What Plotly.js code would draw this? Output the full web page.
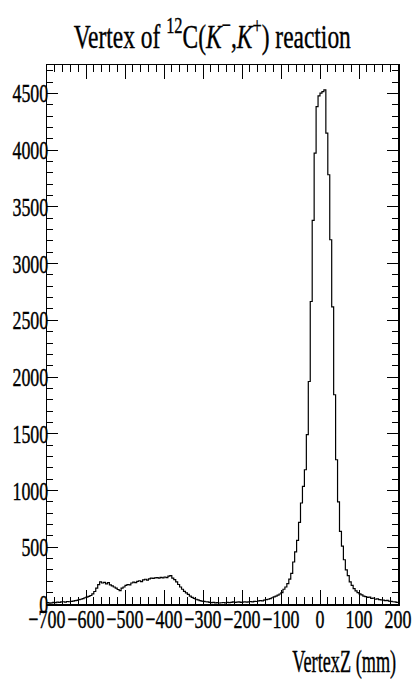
<!DOCTYPE html>
<html>
<head>
<meta charset="utf-8">
<script src="https://cdn.plot.ly/plotly-3.0.1.min.js"></script>
<style>
  html, body { margin: 0; padding: 0; background: #ffffff; }
  #chart { width: 413px; height: 684px; }
</style>
</head>
<body>
<div id="chart"></div>
<script>
// Histogram binning: 180 bins of 5 mm along VertexZ
const zMin = -700;
const zMax = 200;
const nBins = 180;

// Entries per bin, one array per 100 mm block (low edge of first bin in the name)
const countsM700 = [12, 8, 10, 14, 12, 16, 14, 18, 20, 17, 22, 20, 24, 26, 30, 32, 38, 42, 48, 55];
const countsM600 = [60, 68, 75, 90, 110, 140, 170, 195, 185, 190, 178, 188, 168, 160, 150, 140, 128, 118, 140, 150];
const countsM500 = [165, 172, 168, 185, 192, 188, 200, 205, 198, 212, 218, 210, 222, 228, 225, 230, 232, 228, 235, 230];
const countsM400 = [238, 232, 245, 250, 228, 215, 195, 172, 150, 130, 112, 98, 85, 70, 58, 50, 42, 36, 30, 26];
const countsM300 = [24, 20, 18, 15, 12, 14, 10, 12, 9, 11, 13, 10, 14, 12, 15, 18, 14, 16, 19, 15];
const countsM200 = [17, 20, 16, 18, 22, 19, 24, 22, 27, 30, 28, 34, 38, 42, 48, 55, 62, 70, 78, 88];
const countsM100 = [100, 130, 150, 180, 220, 270, 370, 460, 560, 720, 890, 1036, 1183, 1492, 1961, 2666, 3380, 3974, 4384, 4478];
const countsP000 = [4502, 4516, 4530, 4150, 3783, 3210, 2619, 1844, 1271, 900, 640, 510, 390, 300, 250, 195, 165, 135, 115, 100];
const countsP100 = [90, 80, 70, 65, 58, 60, 50, 52, 42, 45, 38, 36, 34, 30, 32, 26, 24, 20, 18, 14];

const titleText = 'Vertex of <sup>12</sup>C(<i>K</i><sup>\u2212</sup>,<i>K</i><sup>+</sup>) reaction';
const xTitleText = 'VertexZ (mm)';

const counts = [].concat(countsM700, countsM600, countsM500, countsM400,
                         countsM300, countsM200, countsM100, countsP000, countsP100);

// Step outline: one point per low bin edge, plus the closing upper edge
const binWidth = (zMax - zMin) / nBins;
const edges = [];
for (let i = 0; i <= nBins; i++) edges.push(zMin + i * binWidth);
const stepY = counts.concat([counts[counts.length - 1]]);

const FONT = 'Liberation Serif';
const SQUEEZE = 0.69;        // narrow, tall lettering
const SQUEEZE_LABEL = 0.57;  // axis caption is narrower still

const trace = {
  type: 'scatter',
  mode: 'lines',
  x: edges,
  y: stepY,
  line: { shape: 'hv', color: '#000000', width: 1.2 },
  hoverinfo: 'skip'
};

const axisCommon = {
  showgrid: false,
  zeroline: false,
  showline: true,
  linecolor: '#000000',
  linewidth: 1.5,
  mirror: 'allticks',
  ticks: 'inside',
  tickcolor: '#000000',
  tickwidth: 1,
  ticklabeloverflow: 'allow',
  tickfont: { family: FONT, size: 26, color: '#000000' }
};

const layout = {
  width: 413,
  height: 684,
  margin: { l: 47, r: 15, t: 65, b: 80 },
  paper_bgcolor: '#ffffff',
  plot_bgcolor: '#ffffff',
  showlegend: false,
  font: { family: FONT, color: '#000000' },
  title: {
    text: titleText,
    font: { family: FONT, size: 34, color: '#000000' },
    xref: 'container', x: 0.514, xanchor: 'center',
    yref: 'container', y: 0.965, yanchor: 'top'
  },
  xaxis: Object.assign({}, axisCommon, {
    range: [zMin, zMax],
    tick0: zMin,
    dtick: 100,
    tickangle: 0,
    ticklen: 14,
    ticklabelstandoff: -9,
    minor: { dtick: 20, ticks: 'inside', ticklen: 7, tickcolor: '#000000', tickwidth: 1 }
  }),
  yaxis: Object.assign({}, axisCommon, {
    range: [0, 4750],
    tick0: 0,
    dtick: 500,
    ticklen: 11,
    ticklabelstandoff: -8,
    minor: { dtick: 100, ticks: 'inside', ticklen: 6, tickcolor: '#000000', tickwidth: 1 }
  }),
  annotations: [{
    text: xTitleText,
    xref: 'paper', x: 1, xanchor: 'right', align: 'right',
    yref: 'paper', y: 0, yanchor: 'top', yshift: -37,
    showarrow: false,
    font: { family: FONT, size: 32, color: '#000000' }
  }]
};

// Compress every text element horizontally about its own anchor point,
// with a hairline stroke so the narrowed glyphs keep their weight
function squeezeText(gd) {
  gd.querySelectorAll('svg text').forEach(function (el) {
    if (!el.textContent) return;
    const s = el.classList.contains('annotation-text') ? SQUEEZE_LABEL : SQUEEZE;
    const bb = el.getBBox();
    const anchor = el.getAttribute('text-anchor') || 'start';
    let ax = bb.x;
    if (anchor === 'end') ax = bb.x + bb.width;
    else if (anchor === 'middle') ax = bb.x + bb.width / 2;
    const prev = el.getAttribute('transform') || '';
    el.setAttribute('transform',
      prev + ' translate(' + ax + ',0) scale(' + s + ',1) translate(' + (-ax) + ',0)');
    el.style.stroke = '#000000';
    el.style.strokeWidth = '0.4px';
  });
}

const gd = document.getElementById('chart');
Plotly.newPlot(gd, [trace], layout, { staticPlot: true, displayModeBar: false })
  .then(function () { squeezeText(gd); });
</script>
</body>
</html>
